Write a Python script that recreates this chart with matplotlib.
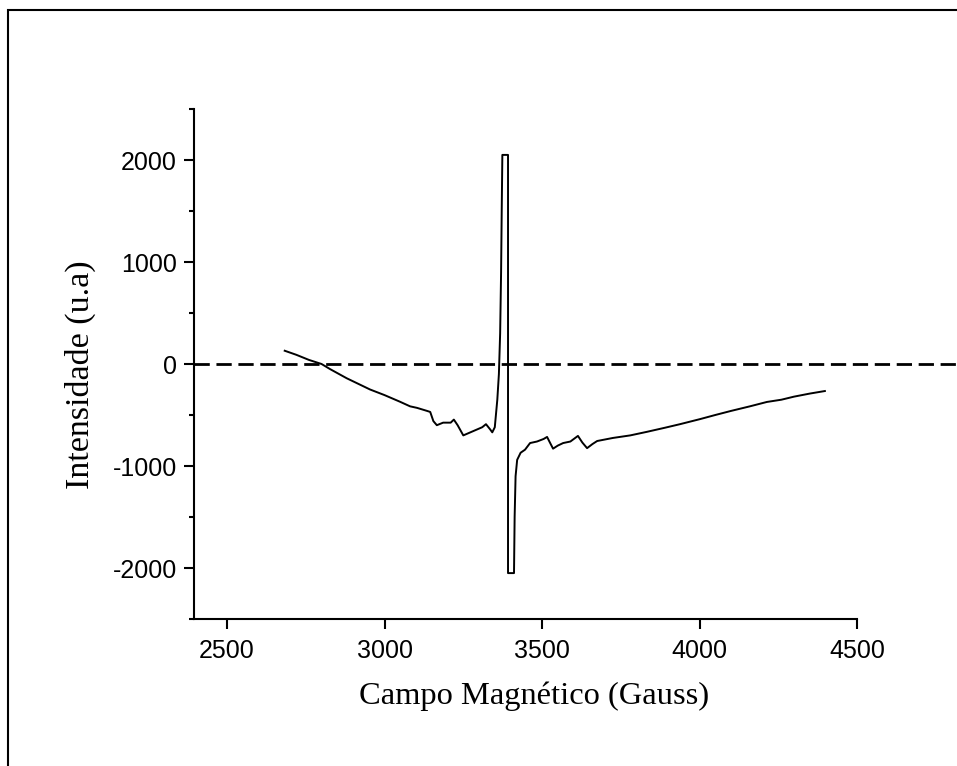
import matplotlib
matplotlib.use("Agg")
import matplotlib.pyplot as plt
from matplotlib.patches import Rectangle
from matplotlib.ticker import MultipleLocator

# EPR spectrum: magnetic field (Gauss) vs. signal intensity (a.u.)
campo = [2683, 2720, 2760, 2800, 2827, 2880, 2954, 3000, 3049, 3081, 3103, 3135,
         3145, 3155, 3166, 3186, 3210, 3220, 3232, 3250, 3280, 3310, 3322, 3335,
         3342, 3350, 3358, 3363, 3367, 3370, 3372, 3374, 3392, 3392, 3411, 3413,
         3416, 3421, 3432, 3446, 3462, 3484, 3505, 3516, 3525, 3535, 3550, 3567,
         3590, 3614, 3628, 3643, 3660, 3675, 3725, 3780, 3833, 3890, 3938, 4002,
         4050, 4100, 4160, 4214, 4260, 4300, 4350, 4398]
intensidade = [130, 90, 40, 0, -50, -140, -250, -305, -370, -415, -430, -460,
               -470, -560, -600, -575, -575, -545, -600, -700, -660, -620, -590, -640,
               -670, -620, -350, -100, 300, 900, 1500, 2050, 2050, -2050, -2050, -1500,
               -1100, -940, -870, -840, -775, -760, -735, -715, -770, -830, -800, -775,
               -760, -705, -770, -825, -785, -755, -725, -700, -665, -625, -590, -540,
               -500, -460, -415, -372, -350, -320, -290, -265]

x_ticks = [2500, 3000, 3500, 4000, 4500]
y_ticks = [-2000, -1000, 0, 1000, 2000]

plt.rcParams["lines.scale_dashes"] = False
plt.rcParams["axes.unicode_minus"] = False

fig = plt.figure(figsize=(9.57, 7.66), dpi=100)
ax = fig.add_axes([194 / 957, 1 - 619 / 766, (857 - 194) / 957, (619 - 109) / 766])

ax.plot(campo, intensidade, color="black", lw=1.4)
ax.axhline(0, xmin=0, xmax=1.6, color="black", lw=2.0,
           dashes=(11, 4.8), clip_on=False)

ax.set_xlim(2395, 4500)
ax.set_ylim(-2500, 2500)
ax.set_xticks(x_ticks)
ax.set_yticks(y_ticks)
ax.yaxis.set_minor_locator(MultipleLocator(500))

for side in ("top", "right"):
    ax.spines[side].set_visible(False)
for side in ("left", "bottom"):
    ax.spines[side].set_linewidth(1.5)

tick_font = "Liberation Sans"
ax.tick_params(which="major", direction="out", length=7.5, width=1.5,
               labelsize=18, pad=5)
ax.tick_params(which="minor", direction="out", length=3.8, width=1.5)
ax.tick_params(axis="x", pad=7)
for lab in ax.get_xticklabels() + ax.get_yticklabels():
    lab.set_fontfamily(tick_font)

ax.set_xlabel("Campo Magnético (Gauss)", fontfamily="Liberation Serif",
              fontsize=23.4)
ax.set_ylabel("Intensidade (u.a)", fontfamily="Liberation Serif",
              fontsize=24.5)
ax.xaxis.set_label_coords(0.513, -0.122)
ax.yaxis.set_label_coords(-0.148, 0.48)

# outer frame around the figure
fig.patches.append(Rectangle((8 / 957, -0.05), 1.2, 1.05 - 10 / 766,
                             transform=fig.transFigure, fill=False,
                             edgecolor="black", lw=1.5))

fig.savefig("out.png", dpi=100)
